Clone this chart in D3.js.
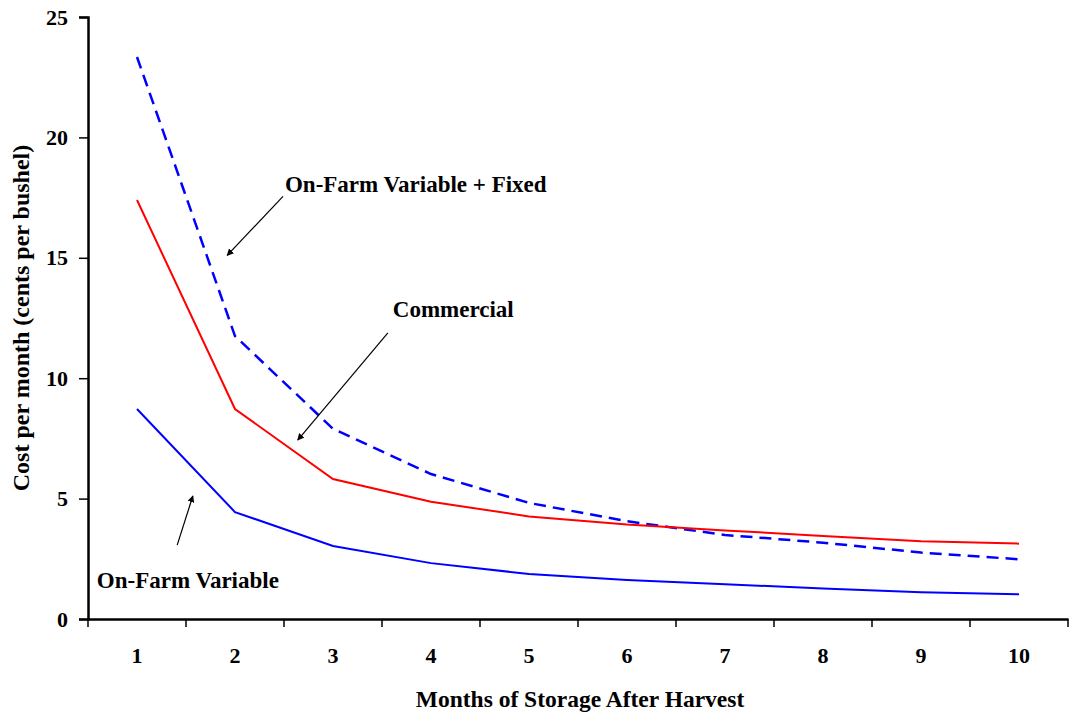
<!DOCTYPE html>
<html>
<head>
<meta charset="utf-8">
<script src="https://cdn.jsdelivr.net/npm/d3@7"></script>
<style>
    body { margin: 0; background: #fff; }
    text { font-family: "Liberation Serif", "Times New Roman", serif; font-weight: bold; fill: #000; }
</style>
</head>
<body>
<div id="chart"></div>
<script>
// months 1..10
const months = [1, 2, 3, 4, 5, 6, 7, 8, 9, 10];

// cents per bushel per month
const onFarmVariable = [8.72, 4.44, 3.03, 2.32, 1.87, 1.62, 1.44, 1.27, 1.11, 1.03];
const commercial = [17.4, 8.72, 5.81, 4.87, 4.26, 3.92, 3.68, 3.45, 3.23, 3.13];
const onFarmFixed = [23.34, 11.75, 7.9, 6.02, 4.82, 4.06, 3.49, 3.17, 2.76, 2.48];

const yTicks = [0, 5, 10, 15, 20, 25];

// annotation text and arrows, in month / value units
const labels = [
    { text: 'On-Farm Variable + Fixed', x: 2.51, y: 17.75, from: [2.49, 17.55], to: [1.92, 15.1] },
    { text: 'Commercial', x: 3.61, y: 12.55, from: [3.56, 11.88], to: [2.64, 7.43] },
    { text: 'On-Farm Variable', x: 0.59, y: 1.29, from: [1.41, 3.07], to: [1.57, 5.11] }
];

const width = 1070,
    height = 715,
    margins = { left: 88, top: 17, right: 2, bottom: 96 };

const svg = d3.select('#chart').append('svg')
    .attr('width', width)
    .attr('height', height);

const x = d3.scaleBand()
    .domain(months)
    .range([margins.left, width - margins.right]);

// continuous helper for annotation positions
const xc = d3.scaleLinear()
    .domain([0.5, 10.5])
    .range([margins.left, width - margins.right]);

const y = d3.scaleLinear()
    .domain([0, 25])
    .range([height - margins.bottom, margins.top]);

svg.append('defs').append('marker')
    .attr('id', 'head')
    .attr('viewBox', '0 0 10 10')
    .attr('refX', 9)
    .attr('refY', 5)
    .attr('markerWidth', 7)
    .attr('markerHeight', 7)
    .attr('markerUnits', 'userSpaceOnUse')
    .attr('orient', 'auto')
    .append('path')
    .attr('d', 'M0,0 L10,5 L0,10 Z')
    .attr('fill', '#000');

// Axes
const axisX = d3.axisBottom(x).tickSize(0).tickPadding(28);

const gx = svg.append('g')
    .attr('transform', 'translate(0, ' + y(0) + ')')
    .call(axisX);
gx.select('.domain').attr('stroke', '#000').attr('stroke-width', 2.5);
gx.selectAll('text').style('font-size', '22px');

// tick marks between categories
gx.selectAll('.sep')
    .data(months.concat([11]))
    .enter().append('line')
    .attr('class', 'sep')
    .attr('x1', d => d === 11 ? x(10) + x.bandwidth() : x(d))
    .attr('x2', d => d === 11 ? x(10) + x.bandwidth() : x(d))
    .attr('y1', 0)
    .attr('y2', 8)
    .attr('stroke', '#000')
    .attr('stroke-width', 1.5);

const axisY = d3.axisLeft(y).tickValues(yTicks).tickSize(9).tickPadding(11);

const gy = svg.append('g')
    .attr('transform', 'translate(' + margins.left + ', 0)')
    .call(axisY);
gy.select('.domain').attr('stroke', '#000').attr('stroke-width', 2.5);
gy.selectAll('.tick line').attr('stroke', '#000').attr('stroke-width', 1.5);
gy.selectAll('text').style('font-size', '22px');

svg.append('text')
    .attr('transform', 'translate(29, ' + y(12.5) + ') rotate(-90)')
    .attr('text-anchor', 'middle')
    .style('font-size', '24px')
    .text('Cost per month (cents per bushel)');

svg.append('text')
    .attr('x', 580)
    .attr('y', 707)
    .attr('text-anchor', 'middle')
    .style('font-size', '23.5px')
    .text('Months of Storage After Harvest');

// Lines
const line = d3.line()
    .x((d, i) => x(months[i]) + x.bandwidth() / 2)
    .y(d => y(d));

svg.append('path')
    .datum(onFarmFixed)
    .attr('d', line)
    .attr('fill', 'none')
    .attr('stroke', '#0000ff')
    .attr('stroke-width', 2.5)
    .attr('stroke-dasharray', '12,7');

svg.append('path')
    .datum(commercial)
    .attr('d', line)
    .attr('fill', 'none')
    .attr('stroke', '#ff0000')
    .attr('stroke-width', 2);

svg.append('path')
    .datum(onFarmVariable)
    .attr('d', line)
    .attr('fill', 'none')
    .attr('stroke', '#0000ff')
    .attr('stroke-width', 2);

// Annotations
labels.forEach(l => {
    svg.append('text')
        .attr('x', xc(l.x))
        .attr('y', y(l.y))
        .style('font-size', '23px')
        .text(l.text);

    svg.append('line')
        .attr('x1', xc(l.from[0]))
        .attr('y1', y(l.from[1]))
        .attr('x2', xc(l.to[0]))
        .attr('y2', y(l.to[1]))
        .attr('stroke', '#000')
        .attr('stroke-width', 1.2)
        .attr('marker-end', 'url(#head)');
});
</script>
</body>
</html>
